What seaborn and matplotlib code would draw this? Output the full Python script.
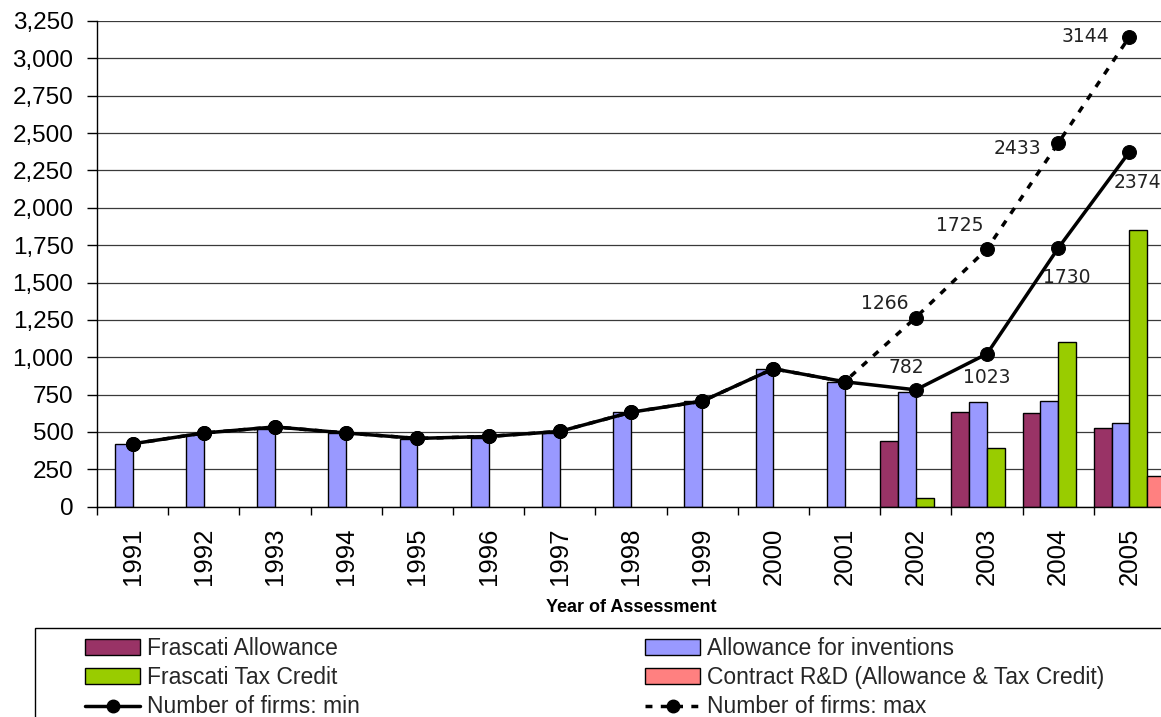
import numpy as np
import pandas as pd
import matplotlib
matplotlib.use("Agg")
import matplotlib.pyplot as plt
import seaborn as sns
from matplotlib.lines import Line2D
from matplotlib.patches import Patch, Rectangle
from matplotlib.ticker import FuncFormatter

nan = np.nan

# ---- data -------------------------------------------------------------
years = [str(y) for y in range(1991, 2006)]

frascati_allowance = [nan] * 11 + [441, 632, 628, 527]
allowance_inventions = [420, 484, 522, 493, 456, 462, 494, 634, 710, 919,
                        836, 766, 702, 704, 560]
frascati_tax_credit = [nan] * 11 + [58, 390, 1102, 1853]
contract_rd = [nan] * 14 + [206]

firms_min = [421, 493, 534, 493, 457, 470, 504, 632, 706, 923,
             836, 782, 1023, 1730, 2374]
firms_max = [421, 493, 534, 493, 457, 470, 504, 632, 706, 923,
             836, 1266, 1725, 2433, 3144]

series_names = ["Frascati Allowance", "Allowance for inventions",
                "Frascati Tax Credit", "Contract R&D (Allowance & Tax Credit)"]
series_colors = ["#993366", "#9999FF", "#99CC00", "#FF8080"]
series_values = [frascati_allowance, allowance_inventions,
                 frascati_tax_credit, contract_rd]

rows = []
for name, vals in zip(series_names, series_values):
    for yr, v in zip(years, vals):
        if not np.isnan(v):
            rows.append({"year": yr, "series": name, "value": v})
bars_df = pd.DataFrame(rows)

# ---- figure -----------------------------------------------------------
sns.set_theme(style="white")
plt.rcParams["font.family"] = ["Liberation Sans", "DejaVu Sans"]

W, H = 1161, 717
fig = plt.figure(figsize=(W / 100, H / 100), dpi=100)
ax = fig.add_axes([97 / W, 1 - 506.7 / H, 1068 / W, (506.7 - 21) / H])

sns.barplot(data=bars_df, x="year", y="value", hue="series",
            order=years, hue_order=series_names, palette=series_colors,
            width=1.0, saturation=1, edgecolor="black", linewidth=1,
            legend=False, ax=ax, zorder=2)

xpos = np.arange(len(years))
sns.lineplot(x=xpos, y=firms_max, ax=ax, color="black", lw=2.5,
             linestyle=(0, (2, 2.4)), marker="o", markersize=10,
             markeredgecolor="black", zorder=3)
sns.lineplot(x=xpos, y=firms_min, ax=ax, color="black", lw=2.5,
             marker="o", markersize=10, markeredgecolor="black", zorder=4)

# value labels where the two firm counts diverge
min_offsets = [(-9, 22), (0, -24), (9, -29), (8, -31)]
max_offsets = [(-31, 14), (-27, 23), (-41, -5), (-44, 0)]
labelled = [i for i in range(len(years)) if firms_max[i] != firms_min[i]]
for k, i in enumerate(labelled):
    ax.annotate(f"{firms_min[i]}", (xpos[i], firms_min[i]),
                xytext=min_offsets[k], textcoords="offset pixels",
                ha="center", va="center", fontsize=13.5, color="#222222",
                family=["DejaVu Sans"], zorder=5)
    ax.annotate(f"{firms_max[i]}", (xpos[i], firms_max[i]),
                xytext=max_offsets[k], textcoords="offset pixels",
                ha="center", va="center", fontsize=13.5, color="#222222",
                family=["DejaVu Sans"], zorder=5)

# ---- axes styling -----------------------------------------------------
ax.set_xlim(-0.5, len(years) - 0.5)
ax.set_ylim(0, 3250)
ax.set_yticks(np.arange(0, 3251, 250))
ax.yaxis.set_major_formatter(FuncFormatter(lambda v, _: f"{int(v):,}"))
ax.set_xticks(xpos)
ax.set_xticklabels(years, rotation=90)
ax.set_xticks(np.arange(-0.5, len(years), 1.0), minor=True)

ax.tick_params(axis="y", which="major", direction="out", length=7,
               width=1, color="black", pad=10, labelsize=17.5,
               labelcolor="black", left=True)
ax.tick_params(axis="x", which="major", length=0, pad=15, labelsize=18.5,
               labelcolor="black")
ax.tick_params(axis="x", which="minor", direction="out", length=6,
               width=1, color="black", bottom=True)

ax.set_axisbelow(True)
ax.yaxis.grid(True, color="#3a3a3a", lw=0.9)
ax.xaxis.grid(False)
for side in ["top", "right"]:
    ax.spines[side].set_visible(False)
for side in ["left", "bottom"]:
    ax.spines[side].set_color("black")
    ax.spines[side].set_linewidth(1)

ax.set_ylabel("")
ax.set_xlabel("Year of Assessment", fontsize=13, fontweight="bold",
              labelpad=10, color="black")

# ---- legend -----------------------------------------------------------
fig.patches.append(Rectangle((35 / W, 1 - 725 / H), (1170 - 35) / W,
                             (725 - 628) / H, transform=fig.transFigure,
                             fill=False, edgecolor="black", lw=1))

patch_handles = [Patch(facecolor=c, edgecolor="black", lw=1)
                 for c in series_colors]
min_handle = Line2D([], [], color="black", lw=2.5, marker="o", markersize=9)
max_handle = Line2D([], [], color="black", lw=2.5, linestyle=(0, (2, 2.4)),
                    marker="o", markersize=9)

leg_kw = dict(loc="upper left", frameon=False, fontsize=16.5,
              handlelength=2.4, handleheight=0.65, handletextpad=0.3,
              labelspacing=0.27, borderpad=0, borderaxespad=0, numpoints=1)
fig.legend([patch_handles[0], patch_handles[2], min_handle],
           [series_names[0], series_names[2], "Number of firms: min"],
           bbox_to_anchor=(85 / W, 1 - 637 / H), **leg_kw)
fig.legend([patch_handles[1], patch_handles[3], max_handle],
           [series_names[1], series_names[3], "Number of firms: max"],
           bbox_to_anchor=(645 / W, 1 - 637 / H), **leg_kw)

fig.savefig("out.png", dpi=100)
